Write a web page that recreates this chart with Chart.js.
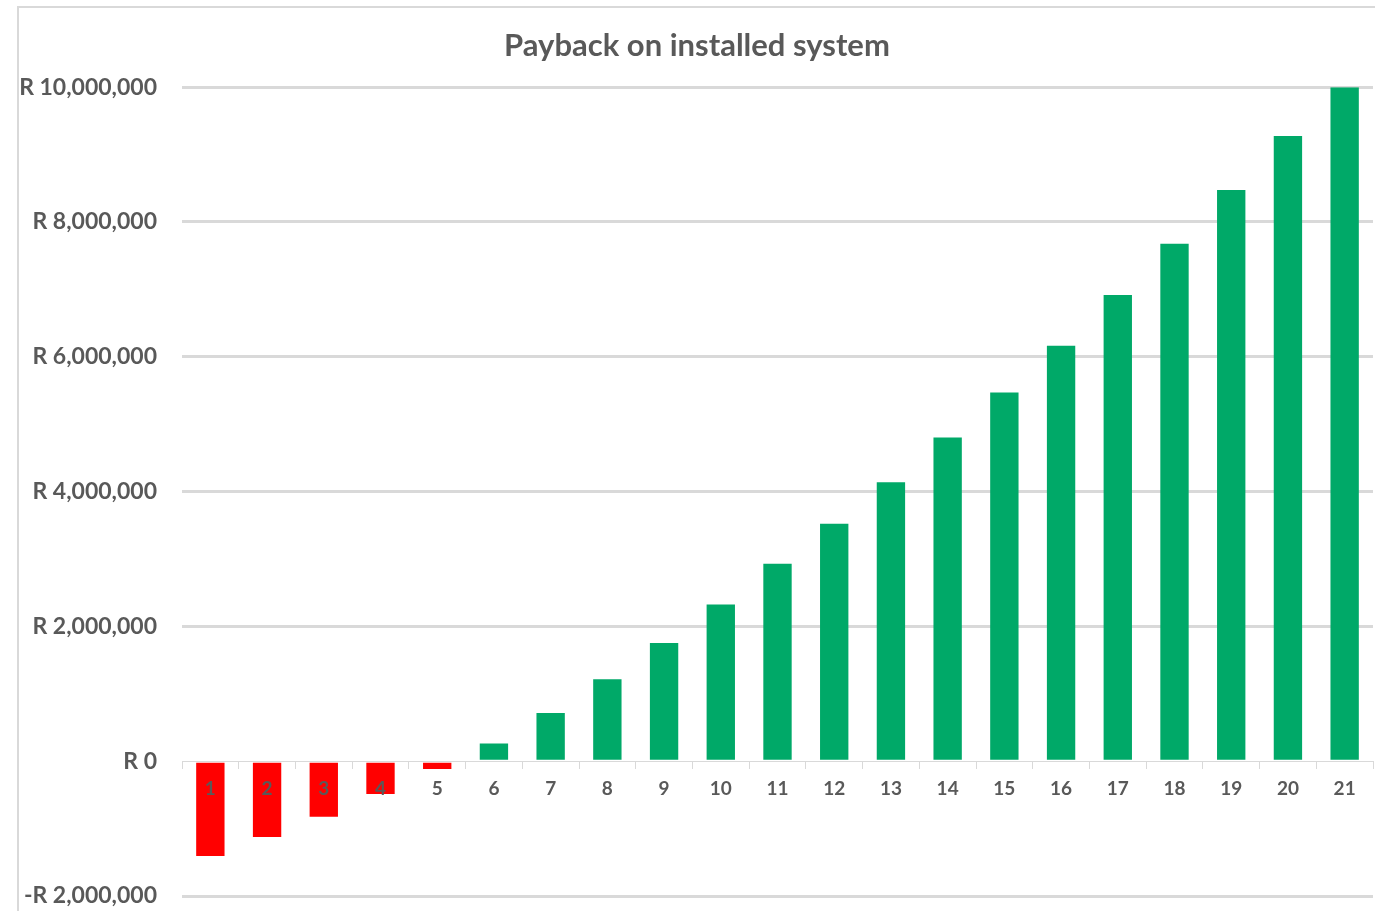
<!DOCTYPE html>
<html>
<head>
<meta charset="utf-8">
<title>Payback on installed system</title>
<script src="https://cdn.jsdelivr.net/npm/chart.js@4"></script>
<style>
  html, body { margin: 0; padding: 0; background: #fff; overflow: hidden; }
  canvas { display: block; }
</style>
</head>
<body>
<canvas id="payback" width="1375" height="911"></canvas>
<script>
// Cumulative payback per year (Rand)
const years = ['1', '2', '3', '4', '5', '6', '7', '8', '9', '10', '11',
               '12', '13', '14', '15', '16', '17', '18', '19', '20', '21'];
const payback = [-1408000, -1125000, -824000, -487000, -116000, 264000, 716000,
                 1215000, 1755000, 2324000, 2928000, 3522000, 4140000, 4803000,
                 5471000, 6165000, 6916000, 7679000, 8475000, 9277000, 10000000];
const yTicks = [-2000000, 0, 2000000, 4000000, 6000000, 8000000, 10000000];

const GREY_TEXT = '#595959';
const GRID = '#d9d9d9';
const FONT = 'Lato, "Liberation Sans", sans-serif';

function rand(v) {
    if (v === 0) return 'R 0';
    const s = 'R ' + Math.abs(v).toLocaleString('en-US');
    return v < 0 ? '-' + s : s;
}

// outer chart frame, partly running off the canvas
const framePlugin = {
    id: 'frame',
    beforeDraw(chart) {
        const ctx = chart.ctx;
        ctx.save();
        ctx.strokeStyle = GRID;
        ctx.lineWidth = 2;
        ctx.strokeRect(18, 7, 1400, 1000);
        ctx.restore();
    }
};

new Chart(document.getElementById('payback'), {
    type: 'bar',
    data: {
        labels: years,
        datasets: [{
            label: 'Payback',
            data: payback,
            backgroundColor: payback.map(v => v < 0 ? '#ff0000' : '#00a968'),
            borderWidth: 0,
            categoryPercentage: 0.5,
            barPercentage: 1
        }]
    },
    options: {
        responsive: false,
        animation: false,
        layout: { padding: { top: 14, right: 2, bottom: 15, left: 21 } },
        plugins: {
            legend: { display: false },
            tooltip: { enabled: false },
            title: {
                display: true,
                text: 'Payback on installed system',
                color: GREY_TEXT,
                font: { family: FONT, size: 31, weight: 'bold' },
                padding: { top: 13, bottom: 23 }
            }
        },
        scales: {
            x: {
                position: { y: 0 },
                grid: {
                    drawOnChartArea: false,
                    drawTicks: true,
                    tickLength: 7,
                    color: GRID,
                    offset: true
                },
                border: { display: true, color: GRID, width: 1 },
                ticks: {
                    z: 1,
                    color: GREY_TEXT,
                    font: { family: FONT, size: 19, weight: 'bold' },
                    padding: 9,
                    maxRotation: 0
                }
            },
            y: {
                min: -2000000,
                max: 10000000,
                afterBuildTicks(scale) {
                    scale.ticks = yTicks.map(v => ({ value: v }));
                },
                afterFit(scale) {
                    scale.width = 161;
                    scale.paddingTop = 0;
                    scale.paddingBottom = 0;
                },
                grid: {
                    drawTicks: false,
                    lineWidth: 3,
                    color: ctx => ctx.tick && ctx.tick.value === 0 ? 'rgba(0,0,0,0)' : GRID
                },
                border: { display: false },
                ticks: {
                    color: GREY_TEXT,
                    font: { family: FONT, size: 23, weight: 'bold' },
                    padding: 25,
                    callback: v => rand(v)
                }
            }
        }
    },
    plugins: [framePlugin]
});
</script>
</body>
</html>
